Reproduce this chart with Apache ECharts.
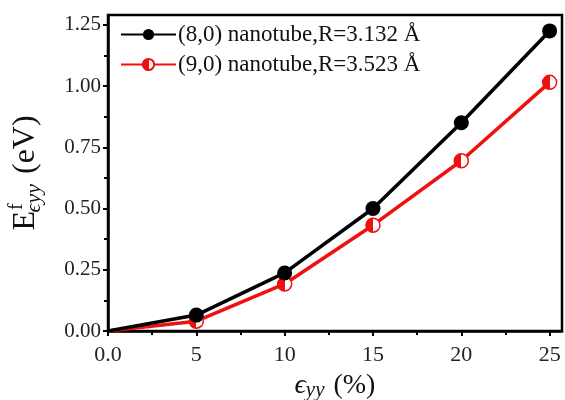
<!DOCTYPE html>
<html>
<head>
<meta charset="utf-8">
<script src="https://cdn.jsdelivr.net/npm/echarts@6/dist/echarts.min.js"></script>
<style>
  html, body { margin: 0; padding: 0; background: #fff; }
  #main { width: 565px; height: 400px; }
</style>
</head>
<body>
<div id="main"></div>
<script>
    var myChart = echarts.init(document.getElementById('main'));

    // strain (%)
    var strain = [0, 5, 10, 15, 20, 25];
    // formation energy (eV)
    var tube80 = [0, 0.065, 0.237, 0.50, 0.85, 1.225];
    var tube90 = [0, 0.04, 0.192, 0.432, 0.695, 1.015];
    var seriesNames = ['(8,0) nanotube,R=3.132 Å', '(9,0) nanotube,R=3.523 Å'];
    var xTicks = [0, 5, 10, 15, 20, 25];
    var yTicks = [0, 0.25, 0.5, 0.75, 1.0, 1.25];

    var serif = 'Liberation Serif';

    // no marker drawn at the origin
    function pairs(ys) {
        return strain.map(function (x, i) {
            var item = { value: [x, ys[i]] };
            if (i === 0) item.symbol = 'none';
            return item;
        });
    }

    // half filled marker for the red curve
    var halfFill = new echarts.graphic.LinearGradient(0, 0, 1, 0, [
        { offset: 0, color: '#f01010' },
        { offset: 0.5, color: '#f01010' },
        { offset: 0.5, color: '#ffffff' },
        { offset: 1, color: '#ffffff' }
    ]);

    option = {
        backgroundColor: '#fff',
        animation: false,
        grid: {
            left: 108,
            right: 3,
            top: 15,
            bottom: 69,
            outerBoundsMode: 'none',
            containLabel: false,
            show: true,
            borderColor: '#000',
            borderWidth: 2.5
        },
        legend: {
            left: 120,
            top: 23,
            padding: 0,
            orient: 'vertical',
            itemWidth: 55,
            itemHeight: 14,
            itemGap: 7,
            textStyle: { fontFamily: serif, fontSize: 23, color: '#111', padding: [0, 0, 0, -3] },
            data: seriesNames
        },
        xAxis: {
            type: 'value',
            min: 0,
            max: 25.7,
            interval: 5,
            name: '{e|ϵ}{s|yy} (%)',
            nameLocation: 'middle',
            nameGap: 39,
            nameTextStyle: {
                fontFamily: serif, fontSize: 28, color: '#111',
                rich: {
                    e: { fontFamily: serif, fontSize: 28, fontStyle: 'italic', color: '#111' },
                    s: { fontFamily: serif, fontSize: 21, fontStyle: 'italic', color: '#111', padding: [10, 2, 0, 0] }
                }
            },
            axisLine: { show: true, lineStyle: { color: '#000', width: 2.5 } },
            axisTick: { show: true, length: 5, lineStyle: { color: '#000', width: 2 },
                customValues: xTicks },
            minorTick: { show: true, splitNumber: 2, length: 4, lineStyle: { color: '#000', width: 2 } },
            splitLine: { show: false },
            axisLabel: {
                fontFamily: serif, fontSize: 22, color: '#222', margin: 13,
                customValues: xTicks,
                formatter: function (v) { return v === 0 ? '0.0' : String(v); }
            }
        },
        yAxis: {
            type: 'value',
            min: 0,
            max: 1.29,
            interval: 0.25,
            name: 'E{sup|f}{sub|ϵyy} (eV)',
            nameLocation: 'middle',
            nameGap: 63,
            nameTextStyle: {
                fontFamily: serif, fontSize: 32, color: '#111',
                rich: {
                    sup: { fontFamily: serif, fontSize: 20, color: '#111', padding: [0, 0, 18, 1] },
                    sub: { fontFamily: serif, fontSize: 22, fontStyle: 'italic', color: '#111', padding: [16, 2, 0, -9] }
                }
            },
            axisLine: { show: true, lineStyle: { color: '#000', width: 2.5 } },
            axisTick: { show: true, length: 5, lineStyle: { color: '#000', width: 2 },
                customValues: yTicks },
            minorTick: { show: true, splitNumber: 2, length: 4, lineStyle: { color: '#000', width: 2 } },
            splitLine: { show: false },
            axisLabel: {
                fontFamily: serif, fontSize: 21, color: '#222', margin: 7,
                customValues: yTicks,
                formatter: function (v) { return v.toFixed(2); }
            }
        },
        series: [{
            name: seriesNames[0],
            type: 'line',
            data: pairs(tube80),
            symbol: 'circle',
            symbolSize: 15,
            lineStyle: { color: '#000', width: 3.5 },
            itemStyle: { color: '#000' },
            z: 3
        }, {
            name: seriesNames[1],
            type: 'line',
            data: pairs(tube90),
            symbol: 'circle',
            symbolSize: 14,
            lineStyle: { color: '#f01010', width: 3.5 },
            itemStyle: { color: halfFill, borderColor: '#f01010', borderWidth: 1.5 },
            z: 2
        }]
    };

    myChart.setOption(option);
</script>
</body>
</html>
